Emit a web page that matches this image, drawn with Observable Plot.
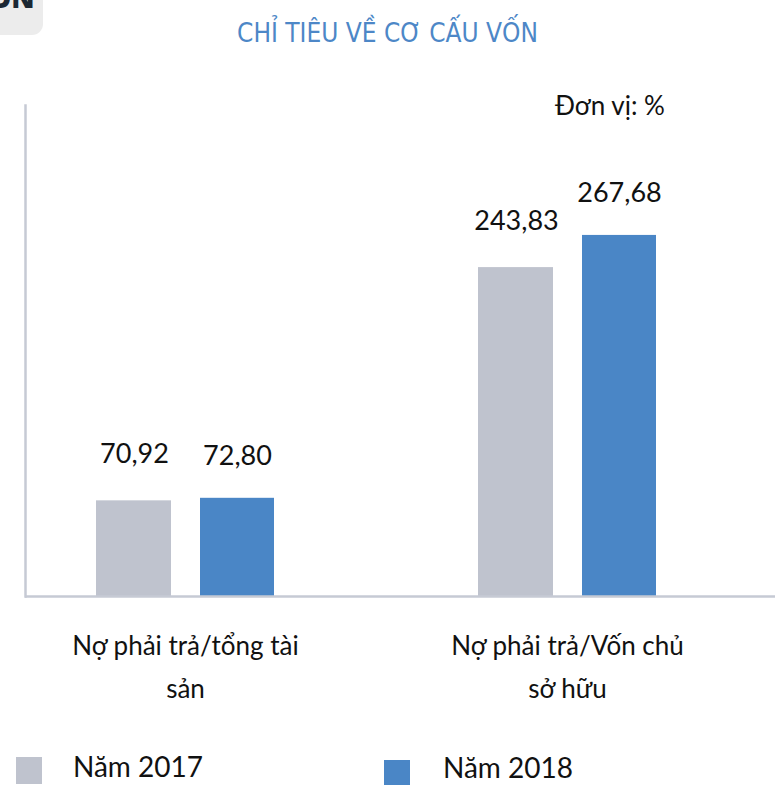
<!DOCTYPE html>
<html>
<head>
<meta charset="utf-8">
<script src="https://cdn.jsdelivr.net/npm/d3@7"></script>
<script src="https://cdn.jsdelivr.net/npm/@observablehq/plot@0.6"></script>
<style>
  html, body { margin: 0; padding: 0; background: #fff; }
  #wrap { position: relative; width: 775px; height: 785px; overflow: hidden; font-family: Lato, "Noto Sans", sans-serif; }
  #corner { position: absolute; left: 0; top: 0; width: 43px; height: 35px; background: #ececec; border-bottom-right-radius: 11px; overflow: hidden; }
  #corner span { position: absolute; left: -11px; top: -19px; font: 800 28px "Open Sans", sans-serif; color: #1b2733; line-height: 1.2; }
  #title { position: absolute; left: 0; width: 775px; top: 18px; text-align: center; font-family: "Liberation Sans Narrow", "DejaVu Sans Condensed", sans-serif; font-size: 26px; line-height: 1.2; color: #4d87c7; }
  #unit { position: absolute; left: 555px; top: 92px; font-size: 26px; line-height: 1; color: #111; }
  #chart { position: absolute; left: 0; top: 0; }
  .sw { position: absolute; width: 26px; height: 27px; }
  .lg { position: absolute; font-size: 28px; line-height: 1; color: #111; }
</style>
</head>
<body>
<div id="wrap">
  <div id="chart"></div>
  <div id="corner"><span>ỐN</span></div>
  <div id="title">CHỈ TIÊU VỀ CƠ CẤU VỐN</div>
  <div id="unit">Đơn vị: %</div>
  <div class="sw" style="left:16px;top:757px;background:#bfc3ce"></div>
  <div class="lg" style="left:73px;top:752px">Năm 2017</div>
  <div class="sw" style="left:384px;top:760px;background:#4a86c6"></div>
  <div class="lg" style="left:443px;top:753px">Năm 2018</div>
</div>
<script>
const categories = ["Nợ phải trả/tổng tài sản", "Nợ phải trả/Vốn chủ sở hữu"];
const tickLabels = ["Nợ phải trả/tổng tài\nsản", "Nợ phải trả/Vốn chủ\nsở hữu"];
const values2017 = [70.92, 243.83];
const values2018 = [72.80, 267.68];
const years = ["Năm 2017", "Năm 2018"];
const colors = ["#bfc3ce", "#4a86c6"];

const fmt = v => v.toFixed(2).replace(".", ",");
const rows2017 = categories.map((c, i) => ({category: c, value: values2017[i]}));
const rows2018 = categories.map((c, i) => ({category: c, value: values2018[i]}));

const chart = Plot.plot({
  width: 775,
  height: 720,
  marginLeft: 25,
  marginRight: 0,
  marginTop: 105,
  marginBottom: 124,
  style: {fontFamily: "Lato, 'Noto Sans', sans-serif", background: "transparent", color: "#111"},
  x: {type: "band", domain: categories, range: [-7, 758], padding: 0, axis: null, label: null},
  y: {domain: [0, 364], axis: null},
  marks: [
    Plot.barY(rows2017, {x: "category", y: "value", fill: colors[0], insetLeft: 102, insetRight: 205}),
    Plot.barY(rows2018, {x: "category", y: "value", fill: colors[1], insetLeft: 206, insetRight: 102}),
    Plot.text(rows2017, {x: "category", y: "value", text: d => fmt(d.value), dx: -51, dy: -46, fontSize: 27, fill: "#111"}),
    Plot.text(rows2018, {x: "category", y: "value", text: d => fmt(d.value), dx: 52, dy: -42, fontSize: 27, fill: "#111"}),
    Plot.frame({anchor: "left", stroke: "#c6cad4", strokeWidth: 2.5}),
    Plot.ruleY([0], {stroke: "#c6cad4", strokeWidth: 2.5}),
    Plot.axisX({
      domain: categories,
      label: null,
      tickSize: 0,
      tickPadding: 28,
      fontSize: 26,
      lineHeight: 1.65,
      fill: "#111",
      tickFormat: d => tickLabels[categories.indexOf(d)]
    })
  ]
});
document.getElementById("chart").appendChild(chart);
</script>
</body>
</html>
